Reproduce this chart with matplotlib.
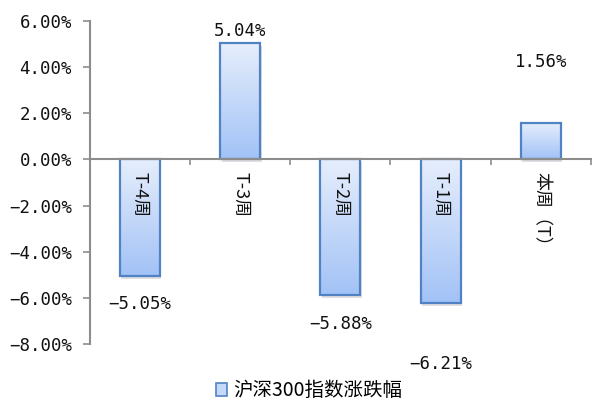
import numpy as np
import matplotlib
import matplotlib.pyplot as plt
import matplotlib.patheffects as pe
from matplotlib.patches import Patch
from matplotlib.colors import LinearSegmentedColormap

matplotlib.use('agg')

# data
categories = ['T-4周', 'T-3周', 'T-2周', 'T-1周', '本周（T）']
values = [-5.05, 5.04, -5.88, -6.21, 1.56]
value_labels = ['−5.05%', '5.04%', '−5.88%', '−6.21%', '1.56%']
label_y = [-6.25, 5.57, -7.12, -8.85, 4.22]
y_ticks = [-8, -6, -4, -2, 0, 2, 4, 6]
legend_label = '沪深300指数涨跌幅'

NUM_FONT = ['DejaVu Sans Mono', 'Noto Sans CJK SC']
CJK_FONT = ['Noto Sans CJK SC', 'DejaVu Sans']
EDGE = '#5183c4'

fig = plt.figure(figsize=(5.92, 4.03), dpi=100)
ax = fig.add_axes([0.152, 0.146, 0.846, 0.802])

x = np.arange(len(categories))
width = 0.4

# shadow layer, gradient layer, edge layer (all below the axis so tick labels sit on top)
shadow = ax.bar(x, values, width, color='white', zorder=0.5, linewidth=0)
for b in shadow:
    b.set_path_effects([pe.SimplePatchShadow(offset=(1, -2), shadow_rgbFace='#999999', alpha=0.3)])

cmap = LinearSegmentedColormap.from_list('bar', ['#e6eefc', '#a2c2f6'])
grad = np.linspace(0, 1, 256).reshape(-1, 1)
bars = ax.bar(x, values, width, facecolor='none', edgecolor=EDGE, linewidth=1.6, zorder=1.5)
for b in bars:
    x0, y0 = b.get_x(), b.get_y()
    w, h = b.get_width(), b.get_height()
    top, bottom = max(y0, y0 + h), min(y0, y0 + h)
    im = ax.imshow(grad, cmap=cmap, aspect='auto', extent=(x0, x0 + w, bottom, top),
                   origin='upper', zorder=1)
    im.set_clip_path(b)

for xi, lab, ly in zip(x, value_labels, label_y):
    ax.text(xi, ly, lab, ha='center', va='center', fontsize=12.5, family=NUM_FONT,
            color='#111111', clip_on=False)

ax.set_xlim(-0.5, 4.5)
ax.set_ylim(-8, 6)
ax.set_yticks(y_ticks)
ax.set_yticklabels([f"{v:.2f}%".replace('-', '−') for v in y_ticks], family=NUM_FONT,
                   fontsize=12.5, color='#111111')

ax.spines['bottom'].set_position(('data', 0))
ax.spines['top'].set_visible(False)
ax.spines['right'].set_visible(False)
for s in ['left', 'bottom']:
    ax.spines[s].set_color('#8c8c8c')
    ax.spines[s].set_linewidth(1.5)

ax.set_xticks(x)
ax.set_xticklabels(categories, rotation=270, family=CJK_FONT, fontsize=13, color='#111111')
ax.set_xticks([0.5, 1.5, 2.5, 3.5, 4.5], minor=True)
ax.tick_params(axis='x', which='major', length=0, pad=9)
ax.tick_params(axis='x', which='minor', length=4, width=1.2, color='#8c8c8c', direction='out')
ax.tick_params(axis='y', length=5, width=1.2, color='#8c8c8c', pad=8)

handle = Patch(facecolor='#c5d9f8', edgecolor=EDGE, linewidth=1.2)
fig.legend(handles=[handle], labels=[legend_label], loc='center', bbox_to_anchor=(0.522, 0.03),
           frameon=False, handlelength=0.6, handleheight=0.6, handletextpad=0.3,
           prop={'family': CJK_FONT, 'size': 14})

fig.savefig('out.png', dpi=100)
